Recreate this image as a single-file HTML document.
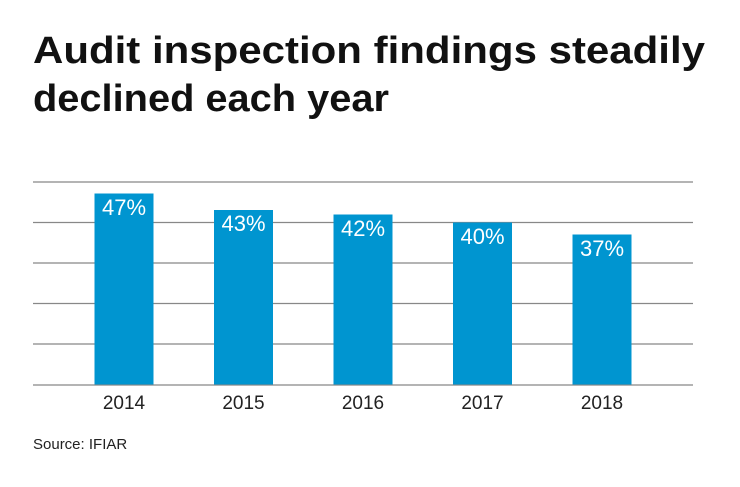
<!DOCTYPE html>
<html><head><style>html,body{margin:0;padding:0;background:#fff}</style></head><body>
<svg width="740" height="482" xmlns="http://www.w3.org/2000/svg" font-family="Liberation Sans, sans-serif">
<rect width="740" height="482" fill="#fff"/>
<text x="33" y="63" font-size="38" font-weight="bold" fill="#111" textLength="672" lengthAdjust="spacingAndGlyphs">Audit inspection findings steadily</text>
<text x="33" y="111" font-size="38" font-weight="bold" fill="#111" textLength="356" lengthAdjust="spacingAndGlyphs">declined each year</text>
<g stroke="#888" stroke-width="1.2">
<line x1="33" x2="693" y1="182" y2="182"/>
<line x1="33" x2="693" y1="222.5" y2="222.5"/>
<line x1="33" x2="693" y1="263" y2="263"/>
<line x1="33" x2="693" y1="303.5" y2="303.5"/>
<line x1="33" x2="693" y1="344" y2="344"/>
<line x1="33" x2="693" y1="385" y2="385"/>
</g>
<g fill="#0095d0">
<rect x="94.5" y="193.5" width="59" height="191"/>
<rect x="214" y="210" width="59" height="174.5"/>
<rect x="333.5" y="214.5" width="59" height="170"/>
<rect x="453" y="222.5" width="59" height="162"/>
<rect x="572.5" y="234.5" width="59" height="150"/>
</g>
<g fill="#fff" font-size="22" text-anchor="middle">
<text x="124" y="215">47%</text>
<text x="243.5" y="231">43%</text>
<text x="363" y="236">42%</text>
<text x="482.5" y="244">40%</text>
<text x="602" y="256">37%</text>
</g>
<g fill="#222" font-size="19" text-anchor="middle">
<text x="124" y="409">2014</text>
<text x="243.5" y="409">2015</text>
<text x="363" y="409">2016</text>
<text x="482.5" y="409">2017</text>
<text x="602" y="409">2018</text>
</g>
<text x="33" y="449" font-size="15" fill="#222">Source: IFIAR</text>
</svg>
</body></html>
